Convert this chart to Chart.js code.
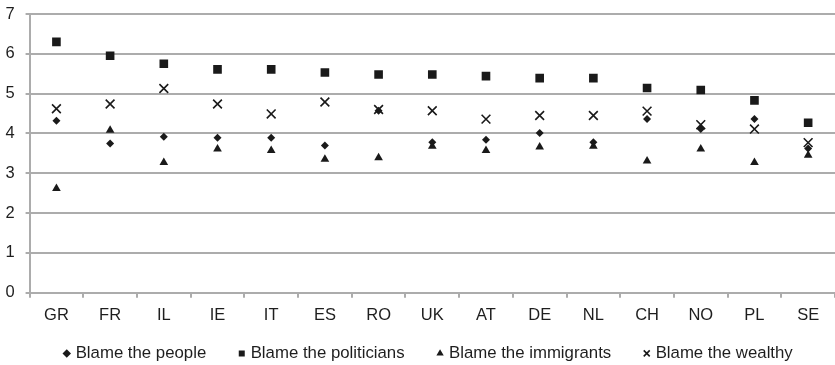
<!DOCTYPE html>
<html>
<head>
<meta charset="utf-8">
<script src="https://cdn.jsdelivr.net/npm/chart.js@4/dist/chart.umd.min.js"></script>
<style>
  html, body { margin: 0; padding: 0; background: #ffffff; overflow: hidden; }
  #wrap { width: 835px; height: 365px; }
</style>
</head>
<body>
<div id="wrap"><canvas id="c" width="835" height="365"></canvas></div>
<script>
const categories = ['GR','FR','IL','IE','IT','ES','RO','UK','AT','DE','NL','CH','NO','PL','SE'];
const blamePeople      = [4.32, 3.75, 3.92, 3.89, 3.89, 3.70, 4.57, 3.78, 3.84, 4.01, 3.78, 4.36, 4.11, 4.36, 3.62];
const blamePoliticians = [6.30, 5.95, 5.75, 5.61, 5.61, 5.53, 5.48, 5.48, 5.44, 5.39, 5.39, 5.14, 5.09, 4.83, 4.27];
const blameImmigrants  = [2.62, 4.08, 3.27, 3.61, 3.57, 3.35, 3.39, 3.68, 3.57, 3.66, 3.68, 3.31, 3.61, 3.27, 3.45];
const blameWealthy     = [4.62, 4.74, 5.13, 4.74, 4.49, 4.79, 4.60, 4.57, 4.36, 4.45, 4.45, 4.56, 4.22, 4.11, 3.77];
const seriesNames = ['Blame the people', 'Blame the politicians', 'Blame the immigrants', 'Blame the wealthy'];
const yTicks = [0, 1, 2, 3, 4, 5, 6, 7];

const INK = '#1a1a1a';
const GRID = '#acacac';
const TEXT = '#1e1e1e';
const FONT = "'Liberation Sans', Arial, sans-serif";

const layoutTweaks = {
  id: 'layoutTweaks',
  afterLayout(chart) {
    if (chart.legend) { chart.legend.left += 14.8; chart.legend.right += 14.8; }
    const x = chart.scales.x;
    if (x) { x.bottom = chart.height; }
  }
};

new Chart(document.getElementById('c'), {
  type: 'line',
  data: {
    labels: categories,
    datasets: [
      { label: seriesNames[0], data: blamePeople, pointStyle: 'rectRot', pointRadius: 4, order: 3 },
      { label: seriesNames[1], data: blamePoliticians, pointStyle: 'rect', pointRadius: 6.1, order: 2 },
      { label: seriesNames[2], data: blameImmigrants, pointStyle: 'triangle', pointRadius: 5, order: 1 },
      { label: seriesNames[3], data: blameWealthy, pointStyle: 'crossRot', pointRadius: 6.2, order: 0, borderWidth: 1.6, pointBorderWidth: 1.6 }
    ].map(d => Object.assign({
      showLine: false,
      backgroundColor: INK,
      borderColor: INK,
      pointBackgroundColor: INK,
      pointBorderColor: INK,
      pointBorderWidth: 0,
      borderWidth: 0,
      pointHoverRadius: d.pointRadius
    }, d))
  },
  options: {
    responsive: false,
    animation: false,
    events: [],
    layout: { autoPadding: false, padding: { left: -5.6, right: 0, top: 14, bottom: -6.8 } },
    scales: {
      x: {
        type: 'category',
        offset: true,
        grid: { offset: true, drawOnChartArea: false, drawTicks: true, tickLength: 5, color: GRID, lineWidth: 2 },
        border: { display: true, color: GRID, width: 2 },
        ticks: { color: TEXT, font: { family: FONT, size: 16.5, lineHeight: '34.6px' }, padding: 0, maxRotation: 0, autoSkip: false },
        afterFit(scale) { scale.height = 17.3; scale.paddingLeft = 0; scale.paddingRight = 0; }
      },
      y: {
        min: 0,
        max: 7,
        afterBuildTicks(scale) { scale.ticks = yTicks.map(v => ({ value: v })); },
        grid: { color: GRID, lineWidth: 2, drawTicks: true, tickLength: 4 },
        border: { display: true, color: GRID, width: 2 },
        ticks: { color: TEXT, font: { family: FONT, size: 16.5 }, padding: 11 },
        afterFit(scale) { scale.paddingTop = 0; scale.paddingBottom = 0; }
      }
    },
    plugins: {
      tooltip: { enabled: false },
      legend: {
        position: 'bottom',
        align: 'center',
        labels: {
          usePointStyle: true,
          boxWidth: 1,
          boxHeight: 6,
          padding: 35,
          color: TEXT,
          font: { family: FONT, size: 16.8 },
          sort: (a, b) => a.datasetIndex - b.datasetIndex
        }
      }
    }
  },
  plugins: [layoutTweaks]
});
</script>
</body>
</html>
